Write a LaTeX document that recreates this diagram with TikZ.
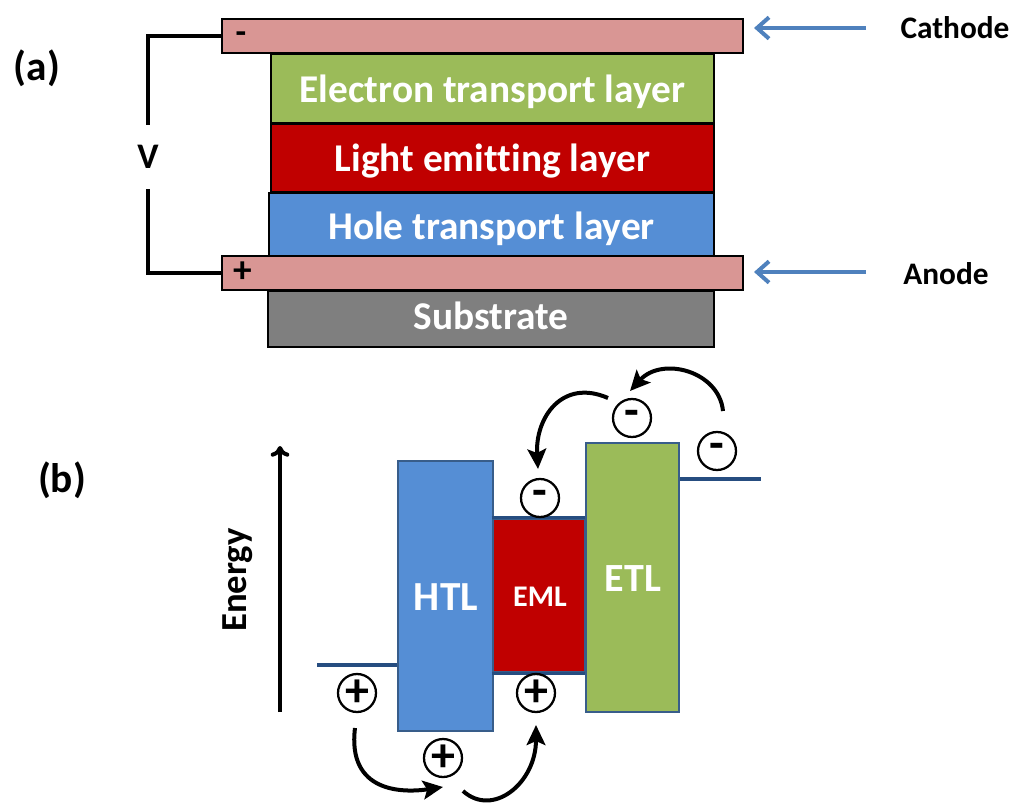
\documentclass[tikz,border=0pt]{standalone}
\usepackage{fontspec}
\setmainfont{Carlito}[Ligatures=NoCommon]
\usetikzlibrary{arrows.meta,fit,calc}
\definecolor{pinkc}{HTML}{D99694}
\definecolor{greenc}{HTML}{9BBB59}
\definecolor{redc}{HTML}{C00000}
\definecolor{bluec}{HTML}{558ED5}
\definecolor{grayc}{HTML}{7F7F7F}
\definecolor{arrowblue}{HTML}{4F81BD}
\definecolor{bordc}{HTML}{385D8A}
\definecolor{levelc}{HTML}{264D80}
\begin{document}
\begin{tikzpicture}[x=0.75pt,y=-0.75pt,font=\bfseries,
  layer/.style={draw=black,line width=2pt,inner sep=0pt},
  ltext/.style={text=white,font=\bfseries\fontsize{29.5}{32}\selectfont},
  band/.style={draw=bordc,line width=2pt,inner sep=0pt},
  level/.style={draw=levelc,line width=2.6pt},
  carrier/.style={circle,draw=black,line width=1.7pt,fill=white,minimum size=28.5pt,inner sep=0pt},
  hole/.style={carrier,font=\bfseries\fontsize{36}{36}\selectfont},
  elec/.style={carrier,font=\bfseries\fontsize{36}{36}\selectfont},
  hop/.style={line width=3pt,-{Stealth[length=15pt,width=14pt,inset=3pt]}},
  barrow/.style={draw=arrowblue,line width=3pt,-{Straight Barb[length=9pt,width=16pt]}},
  wire/.style={line width=3pt}]
\clip (0,0) rectangle (1016,803);
% ---------- (a) ----------
\node[font=\bfseries\fontsize{31}{34}\selectfont] (la) at (37,68) {(a)};
\node[layer,fill=pinkc,fit={(222,19)(743,53)}] (cath) {};
\node[layer,fill=greenc,fit={(271,54)(714,123)}] (etl) {};
\node[ltext] at ([yshift=-2.2pt]etl.center) {Electron transport layer};
\node[layer,fill=redc,fit={(271,124)(714,192)}] (eml) {};
\node[ltext] at ([yshift=-2.2pt]eml.center) {Light emitting layer};
\node[layer,fill=bluec,fit={(269,193)(714,256)}] (htl) {};
\node[ltext] at ([yshift=-3.5pt]htl.center) {Hole transport layer};
\node[layer,fill=pinkc,fit={(222,256)(743,290)}] (anode) {};
\node[layer,fill=grayc,fit={(268,291)(714,347)}] (sub) {};
\node[ltext] at ([yshift=2pt]sub.center) {Substrate};
\node[font=\bfseries\fontsize{26}{26}\selectfont] (minus) at (241,38) {-};
\node[font=\bfseries\fontsize{28}{28}\selectfont] (plus) at (243,272) {+};
\node[font=\bfseries\fontsize{27}{30}\selectfont,minimum height=48pt,inner sep=0pt] (V) at (148,157) {V};
\draw[wire] (cath.west) -| (V.north);
\draw[wire] (anode.west) -| (V.south);
\coordinate (ca0) at (866,28);
\coordinate (ca1) at (754,28);
\coordinate (an0) at (866,272);
\coordinate (an1) at (754,272);
\draw[barrow] (ca0) -- (ca1);
\draw[barrow] (an0) -- (an1);
\node[font=\bfseries\fontsize{23.5}{26}\selectfont] (cathl) at (955,28) {Cathode};
\node[font=\bfseries\fontsize{23.5}{26}\selectfont] (anl) at (946,274) {Anode};
% ---------- (b) ----------
\node[font=\bfseries\fontsize{31}{34}\selectfont] (lb) at (62,480) {(b)};
\coordinate (e0) at (280,712);
\coordinate (e1) at (280,446);
\draw[line width=3pt,-{To[length=8pt,width=14pt]}] (e0) -- (e1);
\node[rotate=90,font=\bfseries\fontsize{27.5}{30}\selectfont] (en) at (238,580) {Energy};
\node[band,fill=bluec,fit={(398,461)(493,731)}] (HTL) {};
\node[text=white,font=\bfseries\fontsize{31}{34}\selectfont] at (446,597) {HTL};
\node[band,fill=redc,fit={(493,519)(585,672)}] (EML) {};
\node[text=white,font=\bfseries\fontsize{22.5}{26}\selectfont] at (540,597) {EML};
\draw[level] (EML.north west) -- (EML.north east);
\draw[level] (EML.south west) -- (EML.south east);
\node[band,fill=greenc,fit={(586,443)(679,712)}] (ETL) {};
\node[text=white,font=\bfseries\fontsize{30}{34}\selectfont] at (633,579) {ETL};
\coordinate (lL) at (317,665);
\coordinate (lR) at (761,479);
\draw[level] (lL) -- (HTL.west |- lL);
\draw[level] (ETL.east |- lR) -- (lR);
\node[elec] (eT) at (632,418) {-};
\node[elec] (eR) at (717,451) {-};
\node[elec] (eM) at (540,498) {-};
\node[hole] (hL) at (357,693) {+};
\node[hole] (hM) at (536,693) {+};
\node[hole] (hB) at (443,758) {+};
\draw[hop] ($(eR)+(6,-40)$) .. controls ($(eR)+(2,-80)$) and ($(eT)+(30,-62)$) .. ($(eT)+(-2,-27)$);
\draw[hop] ($(eT)+(-24,-20)$) .. controls ($(eT)+(-70,-40)$) and ($(eM)+(-5,-80)$) .. ($(eM)+(-2,-29)$);
\draw[hop] ($(hL)+(-2,35)$) .. controls ($(hL)+(-10,100)$) and ($(hB)+(-40,35)$) .. ($(hB)+(0,29)$);
\draw[hop] ($(hB)+(20,33)$) .. controls ($(hB)+(50,60)$) and ($(hM)+(0,90)$) .. ($(hM)+(0,32)$);
\end{tikzpicture}
\end{document}
